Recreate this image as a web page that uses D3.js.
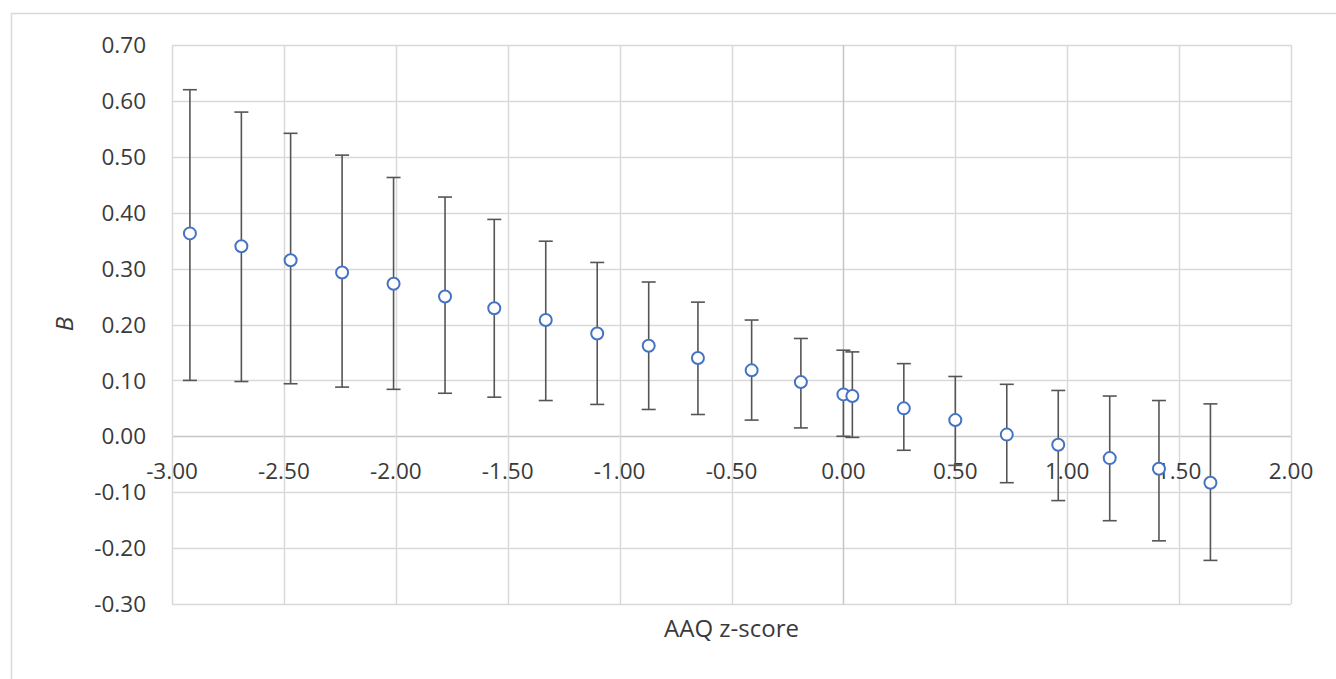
<!DOCTYPE html>
<html>
<head>
<meta charset="utf-8">
<script src="https://cdn.jsdelivr.net/npm/d3@7"></script>
<style>
  body { margin: 0; background: #fff; }
  text { font-family: "Open Sans", sans-serif; fill: #3a3a3a; }
</style>
</head>
<body>
<div id="chart"></div>
<script>
// AAQ z-score (x), B estimate, upper and lower CI
var zScores = [-2.92, -2.69, -2.47, -2.24, -2.01, -1.78, -1.56, -1.33, -1.10, -0.87, -0.65,
               -0.41, -0.19, 0.00, 0.04, 0.27, 0.50, 0.73, 0.96, 1.19, 1.41, 1.64];
var bValues = [0.363, 0.340, 0.315, 0.293, 0.273, 0.250, 0.229, 0.208, 0.184, 0.162, 0.140,
               0.118, 0.097, 0.075, 0.072, 0.050, 0.029, 0.003, -0.015, -0.039, -0.058, -0.083];
var upper = [0.620, 0.580, 0.542, 0.503, 0.463, 0.428, 0.388, 0.349, 0.311, 0.276, 0.240,
             0.208, 0.175, 0.154, 0.151, 0.130, 0.107, 0.093, 0.082, 0.072, 0.064, 0.058];
var lower = [0.100, 0.098, 0.094, 0.088, 0.084, 0.077, 0.070, 0.064, 0.057, 0.048, 0.039,
             0.029, 0.015, 0.000, -0.002, -0.025, -0.052, -0.083, -0.115, -0.151, -0.187, -0.222];
var xTicks = [-3, -2.5, -2, -1.5, -1, -0.5, 0, 0.5, 1, 1.5, 2];
var yTicks = [-0.3, -0.2, -0.1, 0, 0.1, 0.2, 0.3, 0.4, 0.5, 0.6, 0.7];

var width = 1336, height = 679;
var margin = {top: 45, right: 45, bottom: 75, left: 172};

var data = zScores.map(function (z, i) {
    return {z: z, b: bValues[i], hi: upper[i], lo: lower[i]};
});

// excel style labels, plain hyphen for negatives
var fmt = function (d) { return d3.format(".2f")(d).replace("\u2212", "-"); };

var svg = d3.select("#chart").append("svg")
    .attr("width", width)
    .attr("height", height);

// outer chart frame
svg.append("path")
    .attr("d", "M11.5," + height + "V13.5H" + width)
    .attr("fill", "none")
    .attr("stroke", "#d9d9d9")
    .attr("stroke-width", 1.5);

var x = d3.scaleLinear().domain([-3, 2]).range([margin.left, width - margin.right]);
var y = d3.scaleLinear().domain([-0.3, 0.7]).range([height - margin.bottom, margin.top]);

// gridlines
svg.append("g").selectAll("line.h").data(yTicks).enter()
    .append("line")
    .attr("x1", x(-3)).attr("x2", x(2))
    .attr("y1", function (d) { return Math.round(y(d)) + 0.5; })
    .attr("y2", function (d) { return Math.round(y(d)) + 0.5; })
    .attr("stroke", function (d) { return d === 0 ? "#c6c6c6" : "#d9d9d9"; })
    .attr("stroke-width", 1.5);

svg.append("g").selectAll("line.v").data(xTicks).enter()
    .append("line")
    .attr("y1", y(0.7)).attr("y2", y(-0.3))
    .attr("x1", function (d) { return Math.round(x(d)) + 0.5; })
    .attr("x2", function (d) { return Math.round(x(d)) + 0.5; })
    .attr("stroke", function (d) { return d === 0 ? "#c6c6c6" : "#d9d9d9"; })
    .attr("stroke-width", 1.5);

// y tick labels
svg.append("g").selectAll("text").data(yTicks).enter()
    .append("text")
    .attr("x", 146)
    .attr("y", function (d) { return y(d); })
    .attr("dy", "0.36em")
    .attr("text-anchor", "end")
    .style("font-size", "22.5px")
    .text(fmt);

// x tick labels, sitting just under the zero line
svg.append("g").selectAll("text").data(xTicks).enter()
    .append("text")
    .attr("x", function (d) { return x(d); })
    .attr("y", y(0) + 43)
    .attr("text-anchor", "middle")
    .style("font-size", "22.5px")
    .text(fmt);

// error bars
var err = svg.append("g").selectAll("g").data(data).enter().append("g")
    .attr("stroke", "#555")
    .attr("stroke-width", 1.6);

err.append("line")
    .attr("x1", function (d) { return x(d.z); })
    .attr("x2", function (d) { return x(d.z); })
    .attr("y1", function (d) { return y(d.hi); })
    .attr("y2", function (d) { return y(d.lo); });

err.append("line")
    .attr("x1", function (d) { return x(d.z) - 7; })
    .attr("x2", function (d) { return x(d.z) + 7; })
    .attr("y1", function (d) { return y(d.hi); })
    .attr("y2", function (d) { return y(d.hi); });

err.append("line")
    .attr("x1", function (d) { return x(d.z) - 7; })
    .attr("x2", function (d) { return x(d.z) + 7; })
    .attr("y1", function (d) { return y(d.lo); })
    .attr("y2", function (d) { return y(d.lo); });

// markers
svg.append("g").selectAll("circle").data(data).enter()
    .append("circle")
    .attr("cx", function (d) { return x(d.z); })
    .attr("cy", function (d) { return y(d.b); })
    .attr("r", 6)
    .attr("fill", "#fff")
    .attr("stroke", "#4472c4")
    .attr("stroke-width", 2);

// axis titles
svg.append("text")
    .attr("x", (x(-3) + x(2)) / 2)
    .attr("y", 637)
    .attr("text-anchor", "middle")
    .style("font-size", "24px")
    .text("AAQ z-score");

svg.append("text")
    .attr("transform", "translate(73,324) rotate(-90)")
    .attr("text-anchor", "middle")
    .style("font-size", "24px")
    .style("font-style", "italic")
    .text("B");
</script>
</body>
</html>
